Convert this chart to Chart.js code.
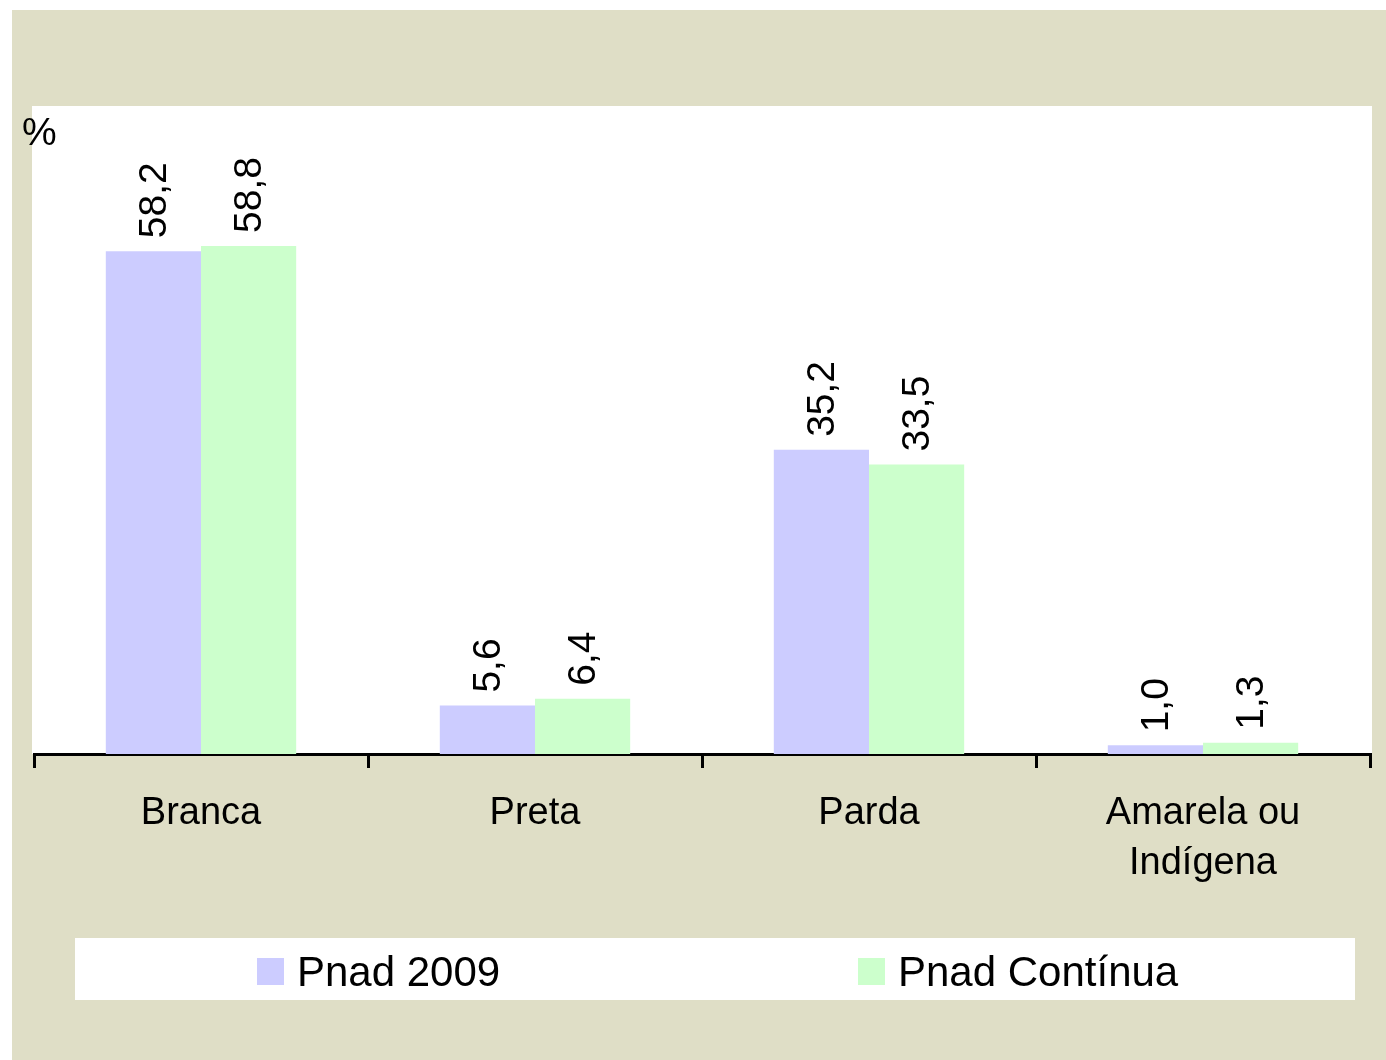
<!DOCTYPE html>
<html>
<head>
<meta charset="utf-8">
<script src="https://cdn.jsdelivr.net/npm/chart.js@4.4.0/dist/chart.umd.js"></script>
<style>
  html, body { margin: 0; padding: 0; background: #fff; }
  #wrap { width: 1386px; height: 1060px; position: relative; }
</style>
</head>
<body>
<div id="wrap"><canvas id="chart" width="1386" height="1060"></canvas></div>
<script>
// dados (%)
const categorias = ['Branca', 'Preta', 'Parda', ['Amarela ou', 'Indígena']];
const pnad2009 = [58.2, 5.6, 35.2, 1.0];
const pnadContinua = [58.8, 6.4, 33.5, 1.3];
const nomesSeries = ['Pnad 2009', 'Pnad Contínua'];

const FONTE = '"Liberation Sans", Arial, sans-serif';
const BEGE = '#dfdec6';

// fundo bege, área de plotagem branca e o "%"
const fundo = {
    id: 'fundo',
    beforeDraw(chart) {
        const { ctx, chartArea: a } = chart;
        ctx.save();
        ctx.fillStyle = '#fff';
        ctx.fillRect(0, 0, chart.width, chart.height);
        ctx.fillStyle = BEGE;
        ctx.fillRect(12, 10, chart.width - 12, chart.height - 10);
        ctx.fillStyle = '#fff';
        ctx.fillRect(a.left - 2, a.top, a.right - a.left + 4, a.bottom - a.top);
        ctx.fillStyle = '#000';
        ctx.font = '39px ' + FONTE;
        ctx.textBaseline = 'alphabetic';
        ctx.fillText('%', 22, 145);
        ctx.restore();
    }
};

// rótulos verticais acima das barras
const rotulos = {
    id: 'rotulos',
    afterDatasetsDraw(chart) {
        const { ctx } = chart;
        ctx.save();
        ctx.fillStyle = '#000';
        ctx.font = '39px ' + FONTE;
        ctx.textAlign = 'left';
        ctx.textBaseline = 'middle';
        chart.data.datasets.forEach((ds, i) => {
            chart.getDatasetMeta(i).data.forEach((bar, j) => {
                const txt = ds.data[j].toFixed(1).replace('.', ',');
                ctx.save();
                ctx.translate(bar.x + 2, bar.y - 13);
                ctx.rotate(-Math.PI / 2);
                ctx.fillText(txt, 0, 0);
                ctx.restore();
            });
        });
        ctx.restore();
    }
};

// legenda em caixa branca
const legenda = {
    id: 'legenda',
    afterDraw(chart) {
        const { ctx } = chart;
        const xs = [257, 858];
        ctx.save();
        ctx.fillStyle = '#fff';
        ctx.fillRect(75, 938, 1280, 62);
        ctx.font = '42px ' + FONTE;
        ctx.textBaseline = 'alphabetic';
        chart.data.datasets.forEach((ds, i) => {
            ctx.fillStyle = ds.backgroundColor;
            ctx.fillRect(xs[i], 958, 27, 27);
            ctx.fillStyle = '#000';
            ctx.fillText(ds.label, xs[i] + 40, 986);
        });
        ctx.restore();
    }
};

new Chart(document.getElementById('chart'), {
    type: 'bar',
    data: {
        labels: categorias,
        datasets: [
            { label: nomesSeries[0], data: pnad2009, backgroundColor: '#ccccff' },
            { label: nomesSeries[1], data: pnadContinua, backgroundColor: '#ccffcc' }
        ]
    },
    options: {
        responsive: false,
        animation: false,
        events: [],
        layout: { padding: { left: 34, right: 16, top: 106, bottom: 0 } },
        plugins: {
            legend: { display: false },
            tooltip: { enabled: false }
        },
        datasets: {
            bar: { categoryPercentage: 0.57, barPercentage: 1 }
        },
        scales: {
            x: {
                offset: true,
                grid: {
                    offset: true,
                    drawOnChartArea: false,
                    color: '#000',
                    lineWidth: 3,
                    tickLength: 14
                },
                border: { display: true, color: '#000', width: 3 },
                ticks: {
                    color: '#000',
                    font: { family: FONTE, size: 38, lineHeight: 1.32 },
                    padding: 20,
                    maxRotation: 0,
                    autoSkip: false
                },
                afterFit(scale) { scale.height = 306; }
            },
            y: {
                display: false,
                min: 0,
                max: 75
            }
        }
    },
    plugins: [fundo, rotulos, legenda]
});
</script>
</body>
</html>
